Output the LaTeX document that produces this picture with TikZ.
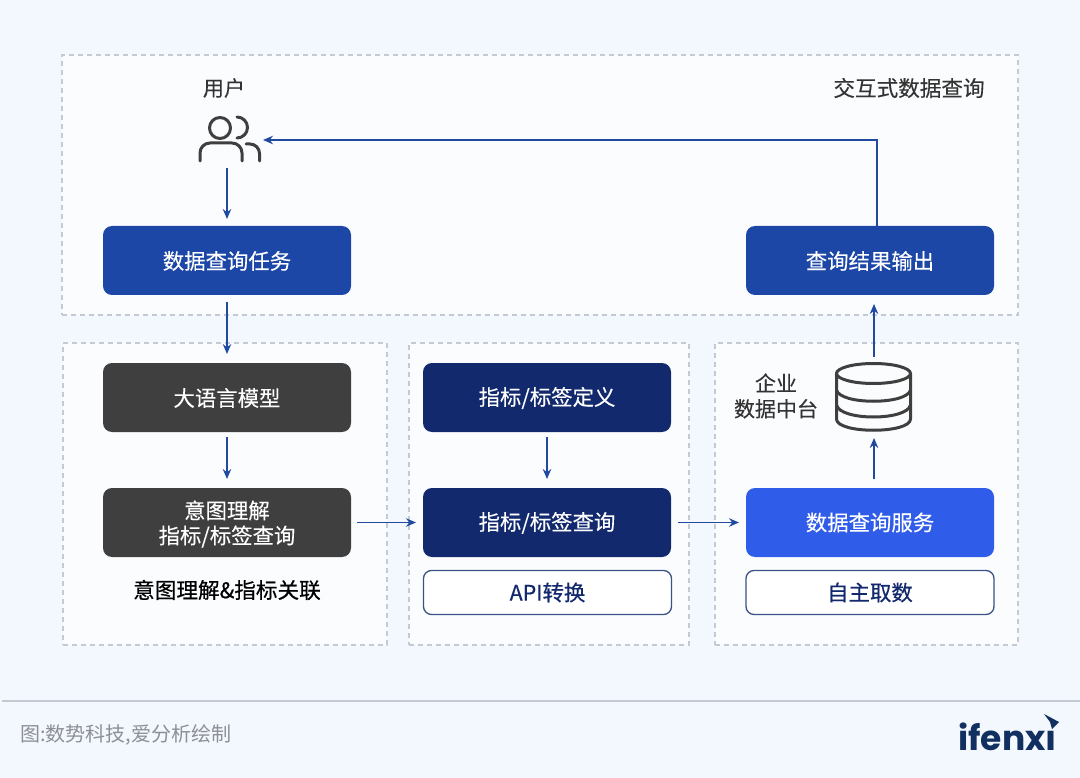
\documentclass[tikz,border=0pt]{standalone}
\usepackage{fontspec}
\setmainfont{Noto Sans CJK SC}
\newfontfamily\logofont{Poppins}
\newfontfamily\midfont[FakeBold=0.25]{Noto Sans CJK SC}
\newfontfamily\medfont[FakeBold=0.6]{Noto Sans CJK SC}
\usetikzlibrary{arrows.meta,calc}
\definecolor{pagebg}{HTML}{F3F7FE}
\definecolor{panelbg}{HTML}{FBFCFE}
\definecolor{dashc}{HTML}{C4CAD3}
\definecolor{blueA}{HTML}{1C47A6}
\definecolor{navy}{HTML}{12296E}
\definecolor{bright}{HTML}{2F5CE8}
\definecolor{graybox}{HTML}{3F3F3F}
\definecolor{arrowc}{HTML}{1F4AA0}
\definecolor{icon}{HTML}{3F3F3F}
\definecolor{ink}{HTML}{333333}
\definecolor{outl}{HTML}{3A5285}
\definecolor{foot}{HTML}{8C8F94}
\definecolor{logoc}{HTML}{12305F}
\newcommand\dropit[2]{\raisebox{-#1pt}[\height][\depth]{#2}}
\tikzset{
 x=1pt,y=-1pt,
 panel/.style={draw=dashc,line width=1.2pt,dash pattern=on 5pt off 4pt,fill=panelbg,inner sep=0,outer sep=0},
 solidbox/.style={rounded corners=9pt,inner sep=0,outer sep=0,minimum width=248pt,minimum height=69pt,text=white,align=center,font=\midfont\fontsize{21.4}{25}\selectfont},
 bluebox/.style={solidbox,fill=blueA},
 navybox/.style={solidbox,fill=navy},
 graybx/.style={solidbox,fill=graybox},
 brightbox/.style={solidbox,fill=bright},
 outlinebox/.style={rounded corners=8pt,draw=outl,line width=1.3pt,fill=white,inner sep=0,outer sep=0,minimum width=248pt,minimum height=44pt,text=navy,font=\medfont\fontsize{21.4}{25}\selectfont},
 label/.style={text=ink,align=center,inner sep=0,font=\midfont\fontsize{21}{26}\selectfont},
 conn/.style={draw=arrowc,line width=1.3pt,-{Stealth[length=10pt,width=8.5pt]}},
 iconline/.style={draw=icon,line width=3pt,line cap=round,line join=round},
 ghost/.style={inner sep=0,outer sep=0,minimum width=#1}
}
\begin{document}
\begin{tikzpicture}
\useasboundingbox (0,0) rectangle (1080,778);
\fill[pagebg] (0,0) rectangle (1080,778);
% panels
\node[panel,minimum width=956pt,minimum height=260pt] (ptop) at (540,185) {};
\node[panel,minimum width=324pt,minimum height=302pt] (pleft) at (225,494) {};
\node[panel,minimum width=280pt,minimum height=302pt] (pmid) at (549,494) {};
\node[panel,minimum width=303pt,minimum height=302pt] (pright) at (866.5,494) {};
% boxes
\node[bluebox] (task) at (227,260.5) {\dropit{0.5}{数据查询任务}};
\node[bluebox] (output) at (870,260.5) {\dropit{0.5}{查询结果输出}};
\node[graybx] (llm) at (227,397.5) {\dropit{0.5}{大语言模型}};
\node[graybx] (intent) at (227,522.5) {\dropit{1.5}{意图理解}\\\dropit{1.5}{指标/标签查询}};
\node[navybox] (def) at (547,397.5) {\dropit{0.5}{指标/标签定义}};
\node[navybox] (query) at (547,522.5) {\dropit{0.5}{指标/标签查询}};
\node[brightbox] (service) at (870,522.5) {数据查询服务};
\node[outlinebox] (api) at (547.5,592.5) {API转换};
\node[outlinebox] (self) at (870,592.5) {自主取数};
% texts
\node[label] (lbluser) at (224,88) {用户};
\node[label,font=\midfont\fontsize{21.6}{26}\selectfont] (lbltitle) at (909,88) {交互式数据查询};
\node[label,text=black,font=\medfont\fontsize{21.6}{26}\selectfont] (lblintent) at (227,590) {意图理解\&指标关联};
\node[label,font=\midfont\fontsize{21}{25.5}\selectfont] (lbldc) at (776,396) {企业\\数据中台};
\node[text=foot,inner sep=0,anchor=west,font=\fontsize{20}{24}\selectfont] (src) at (20,735) {图:数势科技,爱分析绘制};
% icon: users
\node[ghost=72pt,minimum height=56pt] (user) at (227,140) {};
\draw[iconline] (220,128) circle (10.5);
\draw[iconline] (237,117) arc (-90:90:10.5);
\draw[iconline] (200,161) -- (200,153) arc (180:270:10) -- (232,143) arc (270:360:10) -- (242,161);
\draw[iconline] (246,144) -- (250,144) arc (270:360:9.5) -- (259.5,161);
% icon: database
\node[ghost=78pt,minimum height=68pt] (db) at (874,397) {};
\draw[iconline] (873.5,373.5) ellipse (37 and 10);
\draw[iconline] (836.5,373.5) -- (836.5,419) .. controls (836.5,434) and (910.5,434) .. (910.5,419) -- (910.5,373.5);
\draw[iconline] (836.5,390) .. controls (840,405) and (907,405) .. (910.5,390);
\draw[iconline] (836.5,405) .. controls (840,421) and (907,421) .. (910.5,405);
% connectors
\draw[conn,shorten <=0pt,shorten >=7pt] (user.south) -- (task.north);
\draw[conn,shorten <=7pt,shorten >=9pt] (task.south) -- (llm.north);
\draw[conn,shorten <=5pt,shorten >=9pt] (llm.south) -- (intent.north);
\draw[conn,shorten <=6pt,shorten >=7pt] (intent.east) -- (query.west);
\draw[conn,shorten <=5pt,shorten >=9pt] (def.south) -- (query.north);
\draw[conn,shorten <=7pt,shorten >=7pt] (query.east) -- (service.west);
\draw[conn,shorten <=9pt,shorten >=7pt] ([xshift=4pt]service.north) -- (db.south);
\draw[conn,shorten <=6pt,shorten >=9pt] (db.north) -- ([xshift=4pt]output.south);
\draw[conn] ([xshift=7pt]output.north) |- (user.east);
% footer
\coordinate (ruleL) at (2,701);
\coordinate (ruleR) at (1080,701);
\draw[draw=dashc,line width=1.2pt] (ruleL) -- (ruleR);
\node[text=logoc,inner sep=0,anchor=east,font=\logofont\bfseries\fontsize{34.5}{40}\selectfont] (logo) at (1057,737) {ifenxı};
\fill[logoc] (1044,714) -- (1059,722) -- (1052,729) -- (1050,722) -- cycle;
\end{tikzpicture}
\end{document}
